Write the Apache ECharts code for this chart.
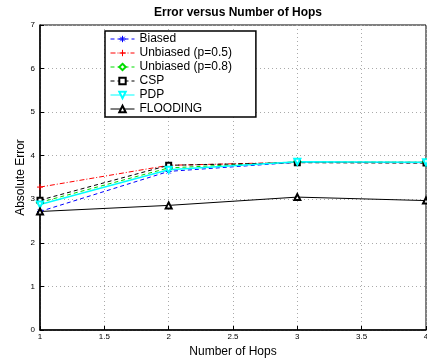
<!DOCTYPE html>
<html>
<head>
<meta charset="utf-8">
<script src="https://cdn.jsdelivr.net/npm/echarts@6/dist/echarts.min.js"></script>
<style>
html, body { margin: 0; padding: 0; background: #fff; }
#chart { width: 427px; height: 362px; }
</style>
</head>
<body>
<div id="chart"></div>
<script>
const hops = [1, 2, 3, 4]
const biased = [2.72, 3.64, 3.85, 3.84]
const unbiased05 = [3.28, 3.78, 3.85, 3.85]
const unbiased08 = [2.93, 3.72, 3.86, 3.85]
const csp = [2.98, 3.78, 3.84, 3.83]
const pdp = [2.88, 3.68, 3.86, 3.85]
const flooding = [2.72, 2.86, 3.05, 2.97]

const plusPath = 'path://M5,0L5,10M0,5L10,5'
const starPath = 'path://M5,0L5,10M0,5L10,5M1.5,1.5L8.5,8.5M8.5,1.5L1.5,8.5'

const pairs = (ys) => hops.map((x, i) => [x, ys[i]])

const mkSeries = (name, ys, color, type, symbol, extra) => Object.assign({
  name: name,
  type: 'line',
  data: pairs(ys),
  symbol: symbol,
  symbolSize: 6,
  showSymbol: true,
  animation: false,
  lineStyle: { color: color, width: 1, type: type },
  itemStyle: { color: color, borderColor: color, borderWidth: 1 }
}, extra || {})

const chart = echarts.init(document.getElementById('chart'))
chart.setOption({
  backgroundColor: '#fff',
  title: {
    text: 'Error versus Number of Hops',
    left: 233,
    textAlign: 'center',
    top: 2,
    textStyle: { fontFamily: 'Liberation Sans', fontSize: 12, fontWeight: 'bold', color: '#000' }
  },
  grid: {
    left: 40, right: 1, top: 25, bottom: 32,
    outerBoundsMode: 'none',
    show: true, borderColor: '#000', borderWidth: 1
  },
  legend: {
    orient: 'vertical',
    left: 105,
    top: 31,
    backgroundColor: '#fff',
    borderColor: '#000',
    borderWidth: 1.5,
    borderRadius: 0,
    padding: [2, 24, 2, 5],
    itemGap: 2,
    itemWidth: 24,
    itemHeight: 8,
    itemStyle: { borderWidth: 1 },
    lineStyle: { width: 1 },
    textStyle: { fontFamily: 'Liberation Sans', fontSize: 12, color: '#000' },
    data: ['Biased', 'Unbiased (p=0.5)', 'Unbiased (p=0.8)', 'CSP', 'PDP', 'FLOODING']
  },
  xAxis: {
    type: 'value',
    min: 1,
    max: 4,
    interval: 0.5,
    name: 'Number of Hops',
    nameLocation: 'middle',
    nameGap: 14,
    nameTextStyle: { fontFamily: 'Liberation Sans', fontSize: 12, color: '#000' },
    axisLine: { lineStyle: { color: '#000', width: 1.5 } },
    axisTick: { inside: true, length: 4, lineStyle: { color: '#000' } },
    axisLabel: { fontFamily: 'Liberation Sans', fontSize: 8, color: '#000', margin: 3 },
    splitLine: { show: true, lineStyle: { color: '#aaa', type: [1, 3] } }
  },
  yAxis: {
    type: 'value',
    min: 0,
    max: 7,
    interval: 1,
    name: 'Absolute Error',
    nameLocation: 'middle',
    nameGap: 13,
    nameMoveOverlap: false,
    nameTextStyle: { fontFamily: 'Liberation Sans', fontSize: 12, color: '#000' },
    axisLine: { lineStyle: { color: '#000', width: 1.5 } },
    axisTick: { inside: true, length: 4, lineStyle: { color: '#000' } },
    axisLabel: { fontFamily: 'Liberation Sans', fontSize: 8, color: '#000', margin: 5 },
    splitLine: { show: true, lineStyle: { color: '#aaa', type: [1, 3] } }
  },
  series: [
    mkSeries('Biased', biased, '#0000ff', [4, 3], starPath, { z: 3 }),
    mkSeries('Unbiased (p=0.5)', unbiased05, '#ff0000', [5, 2, 1, 2], plusPath),
    mkSeries('Unbiased (p=0.8)', unbiased08, '#00dd00', [4, 3], 'emptyDiamond'),
    mkSeries('CSP', csp, '#000000', [4, 3], 'emptyRect', { symbolSize: 5 }),
    mkSeries('PDP', pdp, '#00ffff', 'solid', 'emptyTriangle', { symbolRotate: 180, lineStyle: { color: '#00ffff', width: 1.5, type: 'solid' } }),
    mkSeries('FLOODING', flooding, '#000000', 'solid', 'emptyTriangle')
  ]
})
window.addEventListener('resize', function () {
  chart && chart.resize()
})
</script>
</body>
</html>
